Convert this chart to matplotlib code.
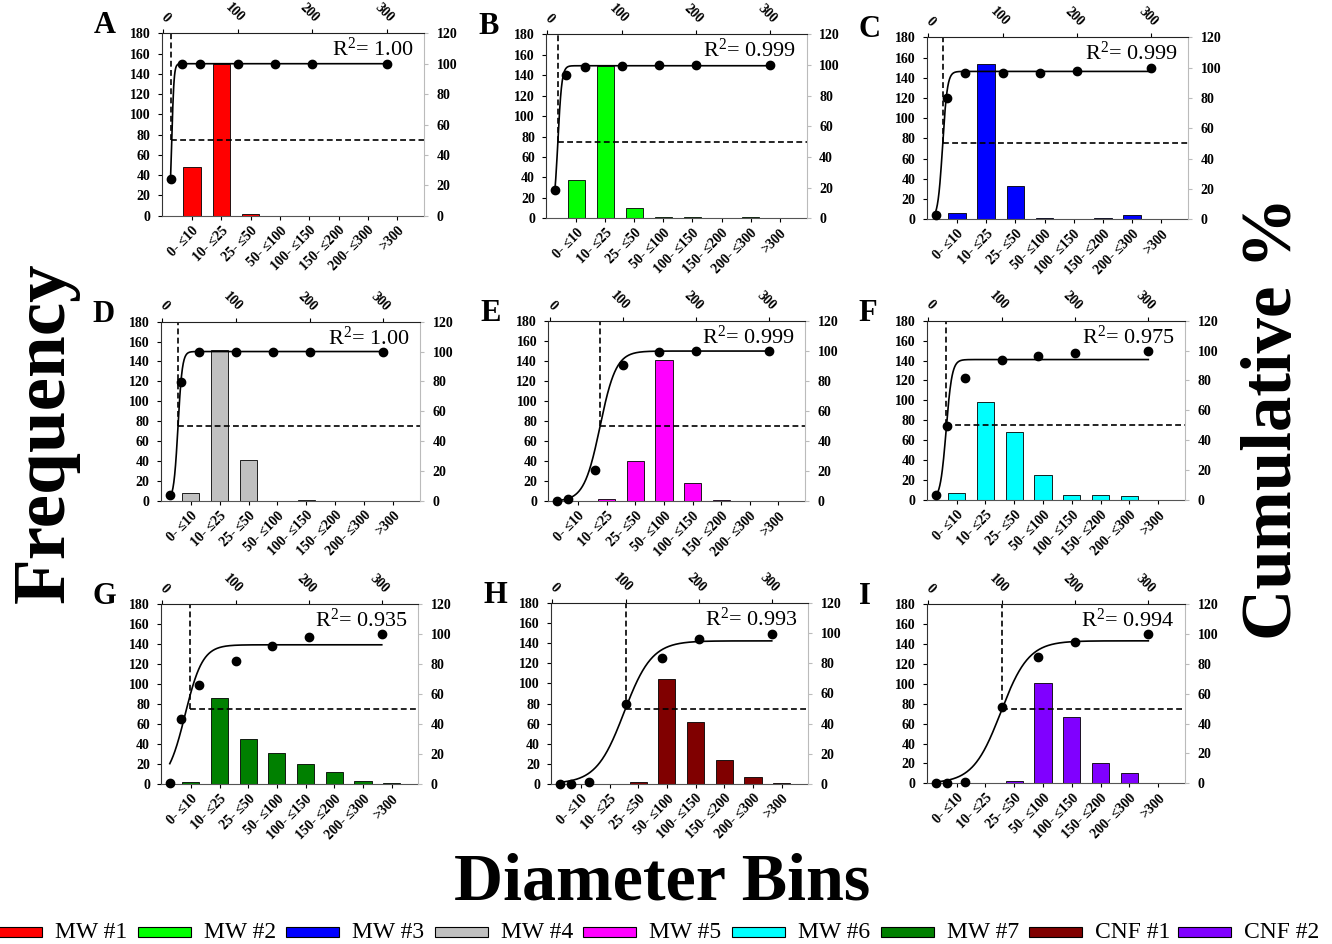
import numpy as np
import matplotlib
matplotlib.use("Agg")
import matplotlib.pyplot as plt
from matplotlib.patches import Rectangle

# ---------------- data ----------------
bins = ["0- ≤10", "10- ≤25", "25- ≤50", "50- ≤100", "100- ≤150",
        "150- ≤200", "200- ≤300", ">300"]
letters = ["A", "B", "C", "D", "E", "F", "G", "H", "I"]
samples = ["MW #1", "MW #2", "MW #3", "MW #4", "MW #5", "MW #6", "MW #7",
           "CNF #1", "CNF #2"]
colors = ["#FF0000", "#00FF00", "#0000FF", "#C0C0C0", "#FF00FF", "#00FFFF",
          "#008000", "#800000", "#8000FF"]

freq_A = [48, 150, 2, 0, 0, 0, 0, 0]
freq_B = [37, 149, 10, 1, 1, 0, 1, 0]
freq_C = [6, 154, 33, 1, 0, 1.5, 4, 0]
freq_D = [8, 152, 41, 0, 1, 0, 0, 0]
freq_E = [0, 2, 40, 141, 18, 1, 0, 0]
freq_F = [7, 98, 68, 25, 5, 5, 4, 0]
freq_G = [2, 86, 45, 31, 20, 12, 3, 1]
freq_H = [0, 0, 2, 104, 62, 24, 7, 1]
freq_I = [0, 0, 2, 101, 67, 20, 10, 0]

cum_x = [10, 25, 50, 100, 150, 200, 300]
cum_x_E = [10, 25, 62, 100, 150, 200, 300]
cum_A = [24, 99.5, 100, 100, 100, 100, 100]
cum_B = [18.6, 93.4, 98.7, 99.3, 99.8, 99.8, 100]
cum_C = [2.9, 79.8, 96.7, 96.7, 96.7, 98, 99.8]
cum_D = [3.6, 79.3, 99.7, 99.7, 99.7, 99.7, 99.7]
cum_E = [0, 1.3, 21, 90.6, 99.5, 100, 100]
cum_F = [3.3, 49.5, 81.9, 93.5, 96.2, 98.4, 100]
cum_G = [0.7, 43.8, 66.4, 82.1, 92.2, 98.2, 100]
cum_H = [0, 0, 1.1, 52.9, 83.8, 96, 99.6]
cum_I = [0, 0, 1, 51.4, 85, 95, 100]

# sigmoid fit parameters (plateau, midpoint, width)
fit_top = [100, 99.5, 97.5, 100, 100, 94, 93, 95, 95.5]
fit_x50 = [11.5, 14, 19.4, 21.5, 69, 24.5, 31, 98, 99]
fit_k = [1.5, 2.7, 3.2, 2.9, 11, 4, 12, 19, 19]
d50 = [10.5, 14, 19.4, 21.7, 69, 24.5, 37, 100, 100]
r2 = ["1.00", "0.999", "0.999", "1.00", "0.999", "0.975", "0.935", "0.993", "0.994"]

freqs = [freq_A, freq_B, freq_C, freq_D, freq_E, freq_F, freq_G, freq_H, freq_I]
cums = [cum_A, cum_B, cum_C, cum_D, cum_E, cum_F, cum_G, cum_H, cum_I]
cumxs = [cum_x, cum_x, cum_x, cum_x, cum_x_E, cum_x, cum_x, cum_x, cum_x]

# ---------------- layout (pixels) ----------------
W, H = 1332, 944
boxes = [(161.7, 424.3, 33.3, 215.7), (546, 806.7, 34.3, 218.3), (926.7, 1188.3, 37.3, 219.3),
         (160.7, 420, 321.7, 500.7), (548.3, 805, 321, 501.3), (926.7, 1185, 320.7, 500),
         (161, 418.3, 604.3, 784.3), (551, 808.3, 603.3, 783.7), (926.7, 1185, 604.3, 783.3)]

plt.rcParams["font.family"] = ["Liberation Serif", "DejaVu Serif"]
plt.rcParams["mathtext.fontset"] = "custom"
plt.rcParams["mathtext.rm"] = "Liberation Serif"
plt.rcParams["mathtext.it"] = "Liberation Serif:italic"
plt.rcParams["mathtext.bf"] = "Liberation Serif:bold"
fig = plt.figure(figsize=(W / 100, H / 100), dpi=100)

tfont = dict(fontsize=10, fontweight="bold")
dash = (0, (3.5, 2))

for i in range(9):
    l, r, t, b = boxes[i]
    rect = [l / W, 1 - b / H, (r - l) / W, (b - t) / H]
    ax = fig.add_axes(rect)
    ax2 = fig.add_axes(rect, label="cum%d" % i, facecolor="none")

    # bars
    xs = np.arange(len(bins))
    ax.bar(xs, freqs[i], width=0.6, color=colors[i], edgecolor="black", linewidth=0.6)
    ax.set_xlim(-1.04, 7.93)
    ax.set_ylim(0, 180)
    ax.set_yticks(np.arange(0, 181, 20))
    ax.set_yticklabels([str(v) for v in range(0, 181, 20)], **tfont)
    ax.set_xticks(xs)
    ax.set_xticklabels(bins, rotation=45, ha="right", va="top",
                       rotation_mode="anchor", **tfont)
    ax.tick_params(axis="both", length=3, width=0.8, pad=3)
    ax.tick_params(axis="y", pad=5)
    ax.spines["top"].set_visible(False)
    ax.spines["right"].set_visible(False)
    ax.spines["left"].set_color("#333333")
    ax.spines["bottom"].set_color("#555555")

    # cumulative
    ax2.set_xlim(-2, 350)
    ax2.set_ylim(0, 120)
    ax2.xaxis.tick_top()
    ax2.yaxis.tick_right()
    ax2.set_xticks([0, 100, 200, 300])
    ax2.set_xticklabels(["0", "100", "200", "300"], rotation=-45, ha="right",
                        va="bottom", rotation_mode="anchor", **tfont)
    ax2.set_yticks(np.arange(0, 121, 20))
    ax2.set_yticklabels([str(v) for v in range(0, 121, 20)], **tfont)
    ax2.tick_params(axis="both", length=3, width=0.8, pad=3)
    ax2.tick_params(axis="y", pad=6, colors="#bbbbbb", labelcolor="black")
    ax2.spines["bottom"].set_visible(False)
    ax2.spines["left"].set_visible(False)
    ax2.spines["top"].set_color("#222222")
    ax2.spines["right"].set_color("#bbbbbb")

    xx = np.linspace(10, 300, 500)
    yy = fit_top[i] / (1 + np.exp(-(xx - fit_x50[i]) / fit_k[i]))
    ax2.plot(xx, yy, color="black", lw=1.2, zorder=3)
    ax2.plot(cumxs[i], cums[i], "o", color="black", ms=6, zorder=4, clip_on=False)
    ax2.plot([d50[i], d50[i]], [50, 120], color="black", lw=1.2, ls=dash, zorder=2)
    ax2.plot([d50[i], 350], [50, 50], color="black", lw=1.2, ls=dash, zorder=2)

    ax2.text(0.958, 0.975, "R$^{2}$= " + r2[i], transform=ax2.transAxes, ha="right",
             va="top", fontsize=16)

    fig.text((l - 68) / W, 1 - t / H, letters[i], fontsize=22, fontweight="bold",
             ha="left", va="baseline")

# big axis titles
fig.text(64 / W, 1 - 433 / H, "Frequency", rotation=90, rotation_mode="anchor",
         ha="center", va="baseline", fontsize=54, fontweight="bold")
fig.text(1291 / W, 1 - 418 / H, "Cumulative %", rotation=90, rotation_mode="anchor",
         ha="center", va="baseline", fontsize=51, fontweight="bold")
fig.text(662 / W, 1 - 900 / H, "Diameter Bins", ha="center", va="baseline",
         fontsize=49, fontweight="bold")

# legend
for i in range(9):
    x0 = -11 + 148.6 * i
    fig.add_artist(Rectangle((x0 / W, 1 - 937 / H), 53 / W, 10 / H,
                             transform=fig.transFigure, facecolor=colors[i],
                             edgecolor="black", linewidth=0.8))
    fig.text((x0 + 66) / W, 1 - 932 / H, samples[i], fontsize=17, ha="left",
             va="center")

fig.savefig("out.png", dpi=100)
